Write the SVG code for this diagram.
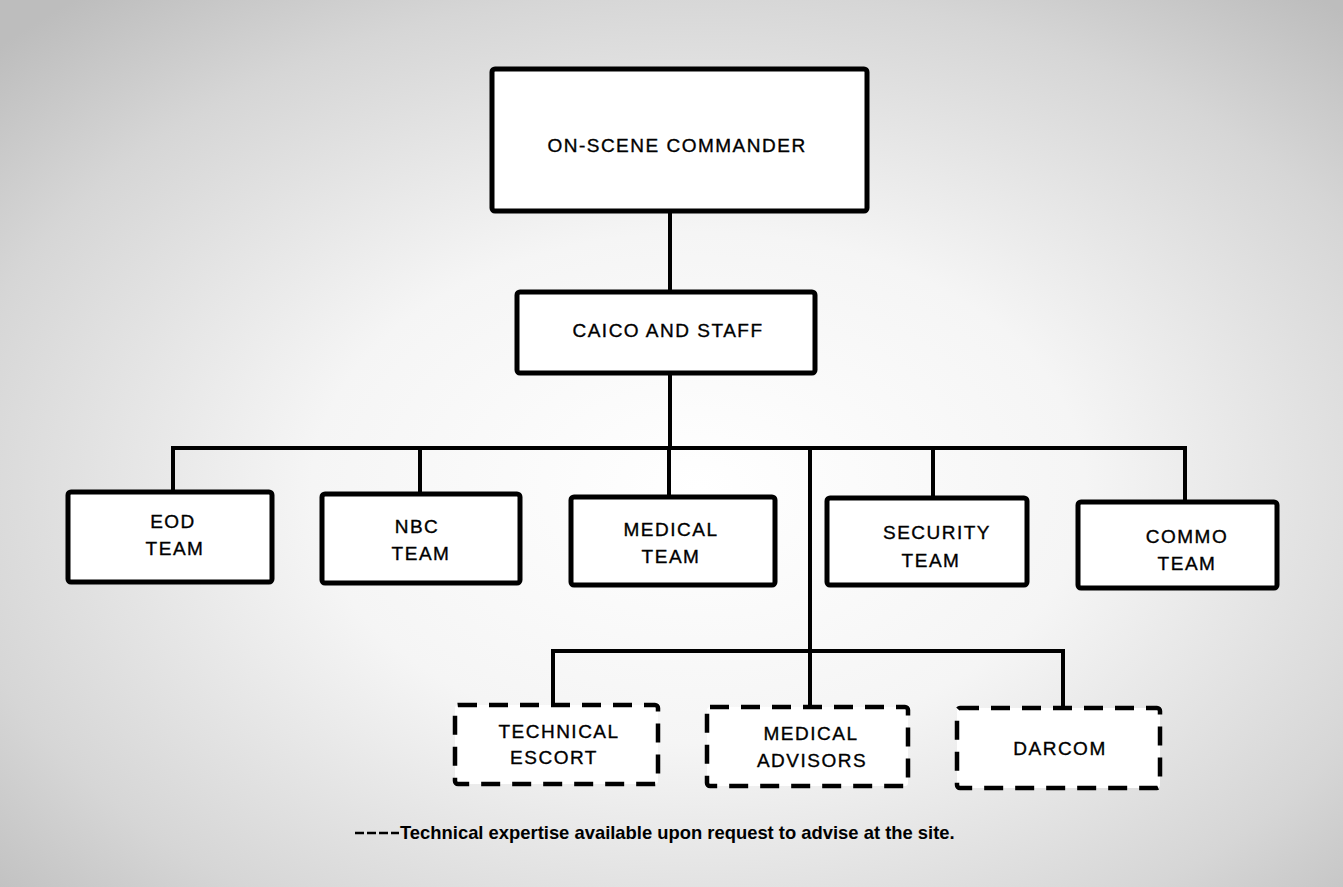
<svg xmlns="http://www.w3.org/2000/svg" width="1343" height="887" viewBox="0 0 1343 887">
<defs>
<radialGradient id="bg" cx="0.52" cy="0.55" r="0.72">
<stop offset="0" stop-color="#ffffff"/>
<stop offset="0.4" stop-color="#f5f5f5"/>
<stop offset="0.78" stop-color="#d6d6d6"/>
<stop offset="1" stop-color="#bdbdbd"/>
</radialGradient>
<style>
.box{fill:#fff;stroke:#000;stroke-width:5}
.dbox{fill:#fff;stroke:#000;stroke-width:4.5;stroke-dasharray:19 12}
.ln{fill:none;stroke:#000;stroke-width:4}
.t{font-family:"Liberation Sans",Arial,sans-serif;font-size:19px;letter-spacing:1.5px;fill:#000;stroke:#000;stroke-width:0.35;text-anchor:middle}
.lg{font-family:"Liberation Sans",Arial,sans-serif;font-size:18.4px;font-weight:bold;fill:#000}
</style>
</defs>
<rect x="0" y="0" width="1343" height="887" fill="url(#bg)"/>
<g id="connectors">
<path class="ln" d="M670 211V292"/>
<path class="ln" d="M670 373V448"/>
<path class="ln" d="M173 492V448H1185V502"/>
<path class="ln" d="M420 448V494"/>
<path class="ln" d="M669 448V497"/>
<path class="ln" d="M933 448V498"/>
<path class="ln" d="M810 448V707"/>
<path class="ln" d="M553 705V651H1063V708"/>
</g>
<g id="on-scene-commander">
<rect class="box" x="492" y="69" width="375" height="142" rx="3"/>
<text class="t" x="677" y="152">ON-SCENE COMMANDER</text>
</g>
<g id="caico">
<rect class="box" x="517" y="292" width="298" height="81" rx="3"/>
<text class="t" x="668" y="337">CAICO AND STAFF</text>
</g>
<g id="eod">
<rect class="box" x="68" y="492" width="204" height="90" rx="3"/>
<text class="t" x="173" y="528">EOD</text>
<text class="t" x="175" y="555">TEAM</text>
</g>
<g id="nbc">
<rect class="box" x="322" y="494" width="198" height="89" rx="3"/>
<text class="t" x="417" y="533">NBC</text>
<text class="t" x="421" y="560">TEAM</text>
</g>
<g id="medical">
<rect class="box" x="571" y="497" width="204" height="88" rx="3"/>
<text class="t" x="671" y="536">MEDICAL</text>
<text class="t" x="671" y="563">TEAM</text>
</g>
<g id="security">
<rect class="box" x="827" y="498" width="200" height="87" rx="3"/>
<text class="t" x="937" y="539">SECURITY</text>
<text class="t" x="931" y="567">TEAM</text>
</g>
<g id="commo">
<rect class="box" x="1078" y="502" width="199" height="86" rx="3"/>
<text class="t" x="1187" y="543">COMMO</text>
<text class="t" x="1187" y="570">TEAM</text>
</g>
<g id="technical-escort">
<rect class="dbox" x="455" y="705" width="203" height="79" rx="3"/>
<text class="t" x="559" y="738">TECHNICAL</text>
<text class="t" x="554" y="764">ESCORT</text>
</g>
<g id="medical-advisors">
<rect class="dbox" x="707" y="707" width="201" height="79" rx="3"/>
<text class="t" x="811" y="740">MEDICAL</text>
<text class="t" x="812" y="767">ADVISORS</text>
</g>
<g id="darcom">
<rect class="dbox" x="957" y="708" width="203" height="80" rx="3"/>
<text class="t" x="1060" y="755">DARCOM</text>
</g>
<g id="legend">
<path d="M355 833H399" stroke="#000" stroke-width="2.5" stroke-dasharray="9 3"/>
<text class="lg" x="400" y="839">Technical expertise available upon request to advise at the site.</text>
</g>
</svg>
